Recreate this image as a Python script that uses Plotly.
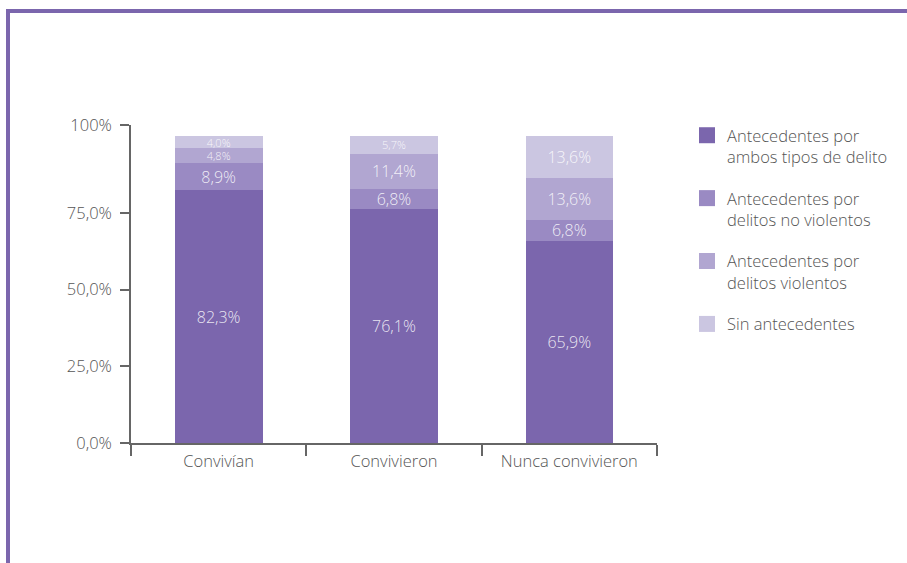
import plotly.graph_objects as go

categories = ["Convivían", "Convivieron", "Nunca convivieron"]
series_names = [
    "Antecedentes por<br>ambos tipos de delito",
    "Antecedentes por<br>delitos no violentos",
    "Antecedentes por<br>delitos violentos",
    "Sin antecedentes",
]
ambos = [82.3, 76.1, 65.9]
no_violentos = [8.9, 6.8, 6.8]
violentos = [4.8, 11.4, 13.6]
sin_antecedentes = [4.0, 5.7, 13.6]
series_values = [ambos, no_violentos, violentos, sin_antecedentes]
colors = ["#7B66AD", "#9A8AC3", "#B1A6D1", "#CBC6E1"]

tick_vals = [0, 25, 50, 75, 103.6]
tick_text = ["0,0%", "25,0%", "50,0%", "75,0%", "100%"]

FONT = "Open Sans"

# plot area in pixels
L, R, T, B = 131, 657, 125, 443
W, H = 907, 563
pw, ph = R - L, B - T


def px_x(x):
    return (x - L) / pw


def px_y(y):
    return (B - y) / ph


fig = go.Figure()
for name, vals, col in zip(series_names, series_values, colors):
    txt = [f"{v:.1f}".replace(".", ",") + "%" for v in vals]
    sizes = [11 if v < 6 else 16 for v in vals]
    fig.add_trace(go.Bar(
        x=categories, y=vals, name=name, marker=dict(color=col, line=dict(width=0)),
        text=txt, textposition="inside", insidetextanchor="middle",
        textfont=dict(family=FONT, size=sizes, color="rgba(255,255,255,0.85)", weight=300),
        constraintext="none", showlegend=False, hoverinfo="skip",
    ))
    fig.add_trace(go.Scatter(
        x=[None], y=[None], mode="markers", name=name, legendgroup=name,
        marker=dict(symbol="square", size=18, color=col), showlegend=True,
    ))

fig.update_layout(
    barmode="stack", bargap=0.5,
    width=W, height=H,
    margin=dict(l=L, r=W - R, t=T, b=H - B),
    paper_bgcolor="white", plot_bgcolor="white",
    font=dict(family=FONT, size=16.5, color="#555555", weight=300),
    legend=dict(
        x=px_x(687), y=px_y(118), xanchor="left", yanchor="top",
        valign="top", tracegroupgap=17, itemsizing="trace",
        font=dict(family=FONT, size=16.5, color="#555555", weight=300),
        bgcolor="rgba(0,0,0,0)",
    ),
    xaxis=dict(
        range=[-0.5, 2.5], showline=True, linecolor="#666666", linewidth=1.5,
        ticks="outside", tickson="boundaries", ticklen=11, tickcolor="#666666", tickwidth=1.5,
        showgrid=False, zeroline=False, ticklabelstandoff=2,
        tickfont=dict(family=FONT, size=16.5, color="#555555", weight=300),
    ),
    yaxis=dict(
        range=[0, 103.6], showline=True, linecolor="#666666", linewidth=1.5,
        ticks="outside", ticklen=9, tickcolor="#666666", tickwidth=1.5,
        tickvals=tick_vals, ticktext=tick_text, ticklabelstandoff=5,
        showgrid=False, zeroline=False,
        tickfont=dict(family=FONT, size=16.5, color="#555555", weight=300),
    ),
    shapes=[
        dict(type="line", xref="paper", yref="paper",
             x0=px_x(6), x1=px_x(907), y0=px_y(11), y1=px_y(11),
             line=dict(color="#7B66AD", width=4)),
        dict(type="line", xref="paper", yref="paper",
             x0=px_x(8), x1=px_x(8), y0=px_y(9), y1=px_y(563),
             line=dict(color="#7B66AD", width=4)),
    ],
)

fig.write_html(
    "out.html",
    config={"displayModeBar": False},
    post_script="document.body.style.margin='0';document.body.style.overflow='hidden';",
)
